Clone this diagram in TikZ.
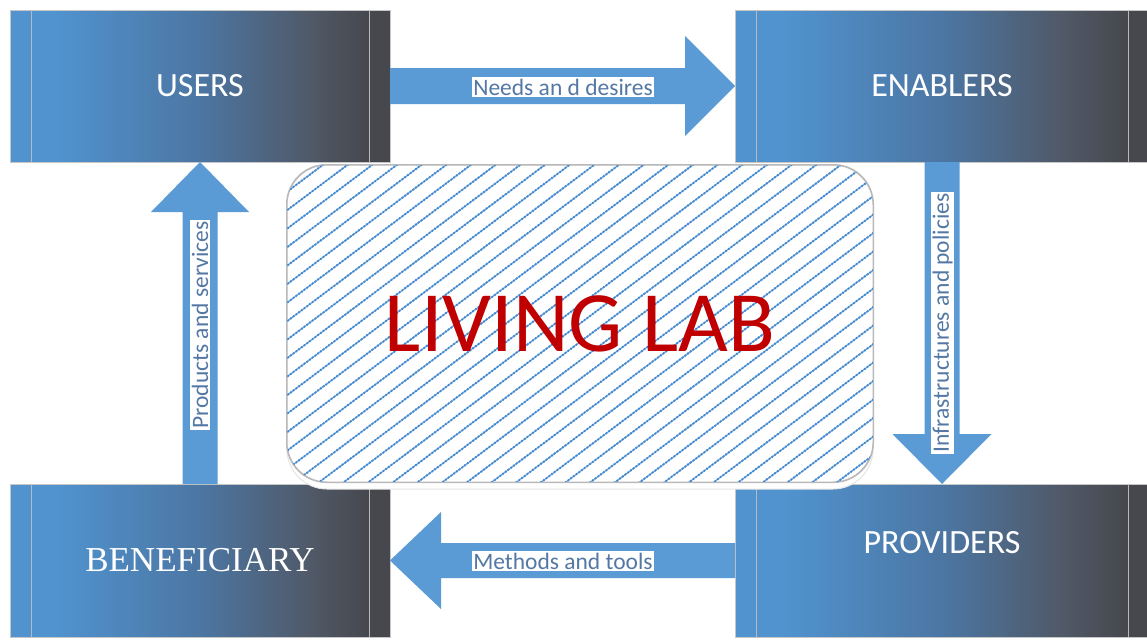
\documentclass[tikz,border=0pt]{standalone}
\usepackage{fontspec}
\setmainfont{Carlito}
\newfontfamily\benefont{Liberation Serif}
\usetikzlibrary{calc,shadows}
\definecolor{bL}{RGB}{80,147,207}
\definecolor{bM}{RGB}{76,118,163}
\definecolor{bD}{RGB}{80,88,102}
\definecolor{bR}{RGB}{70,72,78}
\definecolor{arrowblue}{RGB}{91,155,213}
\definecolor{labeltext}{RGB}{84,120,164}
\definecolor{hatchblue}{RGB}{66,136,208}
\definecolor{labred}{RGB}{192,0,0}
\pgfdeclarehorizontalshading{boxshade}{100bp}{color(0bp)=(bL); color(31bp)=(bL); color(50bp)=(bM); color(65bp)=(bD); color(72bp)=(bR); color(100bp)=(bR)}
\tikzset{
  box/.style={shading=boxshade, draw=gray!45, line width=0.8pt, inner sep=0pt, outer sep=0pt,
    text=white, font=\fontsize{34}{34}\selectfont},
  innerline/.style={draw=gray!55, line width=1pt},
  barrow/.style={fill=arrowblue},
  alabel/.style={fill=white, inner xsep=1.5pt, inner ysep=1.5pt, text=labeltext,
    font=\fontsize{23.5}{23.5}\selectfont},
  hatchline/.style={draw=hatchblue!75, line width=1.2pt},
  hatchdot/.style={draw=hatchblue, line width=2.6pt, line cap=round, dash pattern=on 0pt off 3.4pt},
  labframe/.style={draw=gray!55, line width=1pt, fill=white, rounded corners=40pt,
    minimum width=586pt, minimum height=317pt, inner sep=0pt,
    drop shadow={shadow xshift=0pt, shadow yshift=-7pt, opacity=1, fill=white, draw=gray!20}},
  labtext/.style={text=labred, font=\fontsize{86}{86}\selectfont, inner sep=0pt}
}
\begin{document}
\begin{tikzpicture}[x=1pt,y=-1pt]
\useasboundingbox[fill=white] (0,0) rectangle (1147,643);
% boxes
\node[box, minimum width=380pt, minimum height=152pt] (users) at (200,86) {USERS};
\node[box, minimum width=414pt, minimum height=152pt] (enablers) at (942,86) {ENABLERS};
\node[box, minimum width=380pt, minimum height=153pt, font=\benefont\fontsize{35}{35}\selectfont] (beneficiary) at (200,560.5) {BENEFICIARY};
\node[box, minimum width=414pt, minimum height=153pt] (providers) at (942,560.5) {};
\node[text=white, font=\fontsize{34}{34}\selectfont, inner sep=0pt] (providerstext) at ([yshift=18pt]providers.center) {PROVIDERS};
\foreach \b in {users,enablers,beneficiary,providers}{
  \draw[innerline] ([xshift=21pt]\b.north west) -- ([xshift=21pt]\b.south west);
  \draw[innerline] ([xshift=-21pt]\b.north east) -- ([xshift=-21pt]\b.south east);
}
% block arrows
\fill[barrow] ($(users.east)+(0,-18)$) -- ($(enablers.west)+(-50,-18)$) -- ($(enablers.west)+(-50,-50)$) -- (enablers.west) -- ($(enablers.west)+(-50,50)$) -- ($(enablers.west)+(-50,18)$) -- ($(users.east)+(0,18)$) -- cycle;
\fill[barrow] ($(enablers.south)+(-17.5,0)$) -- ($(providers.north)+(-17.5,-50)$) -- ($(providers.north)+(-49.5,-50)$) -- (providers.north) -- ($(providers.north)+(49.5,-50)$) -- ($(providers.north)+(17.5,-50)$) -- ($(enablers.south)+(17.5,0)$) -- cycle;
\fill[barrow] ($(providers.west)+(0,-17.5)$) -- ($(beneficiary.east)+(51,-17.5)$) -- ($(beneficiary.east)+(51,-48.5)$) -- (beneficiary.east) -- ($(beneficiary.east)+(51,48.5)$) -- ($(beneficiary.east)+(51,17.5)$) -- ($(providers.west)+(0,17.5)$) -- cycle;
\fill[barrow] ($(beneficiary.north)+(-17.5,0)$) -- ($(users.south)+(-17.5,50)$) -- ($(users.south)+(-49,50)$) -- (users.south) -- ($(users.south)+(49,50)$) -- ($(users.south)+(17.5,50)$) -- ($(beneficiary.north)+(17.5,0)$) -- cycle;
% arrow labels
\node[alabel] (needs) at (563,87) {Needs an d desires};
\node[alabel] (methods) at (563,561) {Methods and tools};
\node[alabel, rotate=90] (infra) at (942.5,323) {Infrastructures and policies};
\node[alabel, rotate=90] (products) at (200,325) {Products and services};
% living lab
\node[labframe] (labbox) at (580,323.5) {};
\begin{scope}
  \clip[rounded corners=40pt] (labbox.north west) rectangle (labbox.south east);
  \foreach \k in {0,...,44}{
    \draw[hatchline] (280,160+18.5*\k) -- (880,160+18.5*\k-450);
    \draw[hatchdot] (280,160+18.5*\k) -- (880,160+18.5*\k-450);
  }
\end{scope}
\draw[draw=gray!55, line width=1pt, rounded corners=40pt] (labbox.north west) rectangle (labbox.south east);
\node[labtext] (lab) at (labbox.center) {LIVING LAB};
\end{tikzpicture}
\end{document}
